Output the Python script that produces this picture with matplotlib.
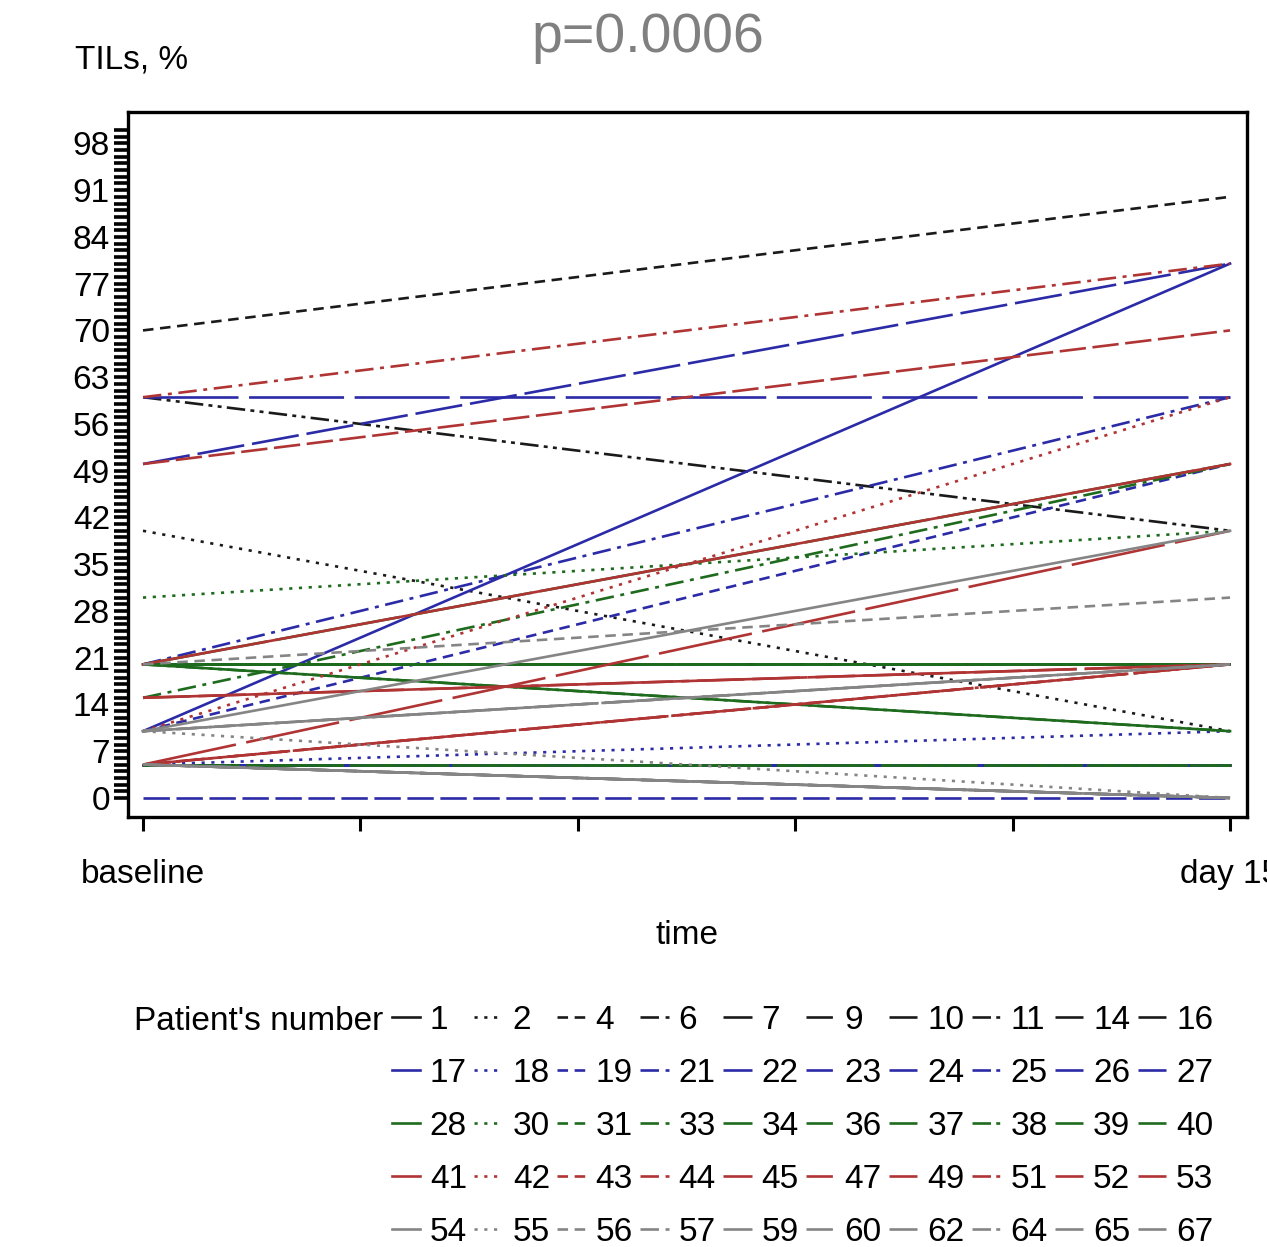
import matplotlib
matplotlib.use("Agg")
import matplotlib.pyplot as plt
from matplotlib.ticker import FixedLocator

plt.rcParams['font.family'] = ['Liberation Sans', 'DejaVu Sans']

# patient numbers, one legend row per colour group
patients = [1, 2, 4, 6, 7, 9, 10, 11, 14, 16,
            17, 18, 19, 21, 22, 23, 24, 25, 26, 27,
            28, 30, 31, 33, 34, 36, 37, 38, 39, 40,
            41, 42, 43, 44, 45, 47, 49, 51, 52, 53,
            54, 55, 56, 57, 59, 60, 62, 64, 65, 67]

# TILs % at baseline and at day 15
baseline = [5, 40, 70, 20, 5, 5, 5, 60, 5, 20,
            10, 5, 10, 20, 50, 0, 60, 5, 5, 5,
            20, 30, 5, 15, 20, 20, 5, 20, 20, 20,
            20, 10, 5, 60, 15, 50, 5, 5, 5, 15,
            10, 10, 20, 10, 5, 10, 5, 5, 10, 5]
day15 = [5, 10, 90, 20, 0, 5, 5, 40, 5, 20,
         80, 10, 50, 60, 80, 0, 60, 5, 5, 5,
         10, 40, 5, 50, 20, 20, 5, 10, 20, 50,
         50, 60, 20, 80, 20, 70, 40, 20, 20, 20,
         40, 0, 30, 20, 0, 20, 0, 0, 20, 0]

times = ["baseline", "day 15"]

row_colors = ['#1a1a1a', '#2b2ba8', '#1e6b1e', '#b03434', '#858585']
col_styles = ['-', (0, (1.2, 2.5)), (0, (4, 2.5)), (0, (7, 2.5, 1.5, 2.5)),
              (0, (18, 3)), (0, (10, 2.5)), (0, (36, 4)),
              (0, (7, 2, 1.5, 2, 1.5, 2)), (0, (26, 3)), (0, (48, 3))]

FS = 24

fig = plt.figure(figsize=(12.67, 12.47), dpi=100)
ax = fig.add_axes([128/1267, 1 - 817/1247, 1119/1267, 705/1247])

handles = []
for i, p in enumerate(patients):
    r, c = divmod(i, 10)
    ln, = ax.plot([0, 1], [baseline[i], day15[i]], color=row_colors[r],
                  linestyle=col_styles[c], lw=1.9, label=str(p))
    handles.append(ln)

ax.set_xlim(-0.0138, 1.0156)
ax.set_ylim(-2.85, 102.7)

ax.yaxis.set_major_locator(FixedLocator(list(range(0, 99, 7))))
ax.yaxis.set_minor_locator(FixedLocator(list(range(0, 101))))
ax.tick_params(axis='y', which='both', direction='out', length=10, width=2.6,
               labelsize=FS, pad=3)
ax.xaxis.set_major_locator(FixedLocator([0, 0.2, 0.4, 0.6, 0.8, 1.0]))
ax.set_xticklabels([times[0], '', '', '', '', times[1]])
ax.tick_params(axis='x', direction='out', length=10, width=2.2, labelsize=FS, pad=20)

for s in ax.spines.values():
    s.set_linewidth(2.4)

ax.set_xlabel('time', fontsize=FS, labelpad=22)
ax.set_ylabel('TILs, %', fontsize=FS, rotation=0, ha='left', va='center')
ax.yaxis.set_label_coords(-0.047, 1.074)
ax.set_title('p=0.0006', color='#808080', fontsize=40, x=0.465, y=1.085, pad=0)

# legend laid out row by row: reorder handles for column-major filling
order = [r * 10 + c for c in range(10) for r in range(5)]
fig.legend([handles[k] for k in order], [handles[k].get_label() for k in order],
           ncol=10, loc='upper left', bbox_to_anchor=(0.309, 0.194),
           frameon=False, fontsize=FS, handlelength=0.85, handletextpad=0.3,
           columnspacing=0.22, labelspacing=0.66, borderpad=0, borderaxespad=0)
fig.text(383/1267, 1 - 1022/1247, "Patient's number", fontsize=FS,
         va='center', ha='right')

fig.savefig('out.png', dpi=100)
